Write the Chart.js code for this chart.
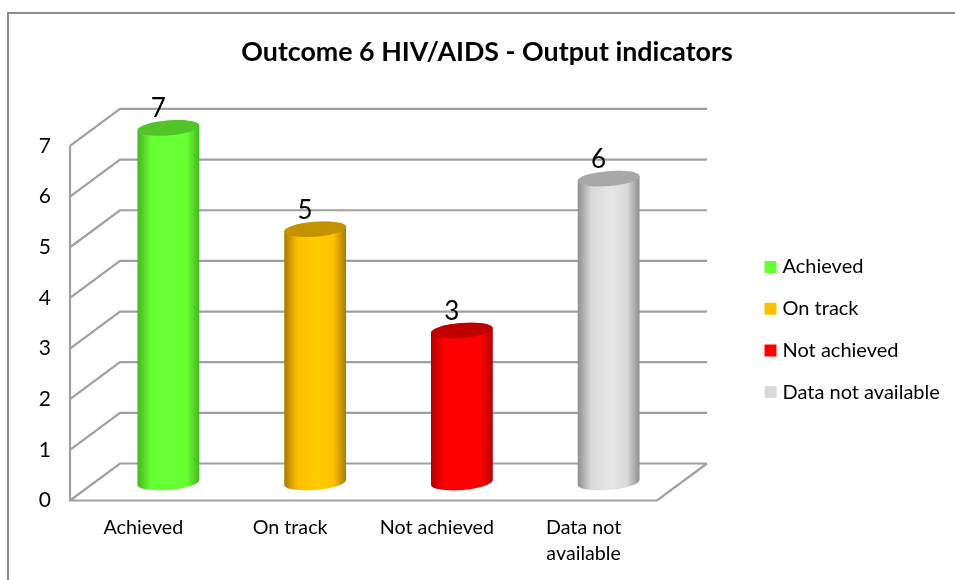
<!DOCTYPE html>
<html>
<head>
<meta charset="utf-8">
<style>
  html, body { margin: 0; background: #fff; }
  canvas { display: block; }
</style>
</head>
<body>
<canvas id="myChart" width="955" height="580"></canvas>
<script src="https://cdn.jsdelivr.net/npm/chart.js@4"></script>
<script>
const categories = [['Achieved'], ['On track'], ['Not achieved'], ['Data not', 'available']];
const legendNames = ['Achieved', 'On track', 'Not achieved', 'Data not available'];
const values = [7, 5, 3, 6];
const bodyColors = ['#66FF33', '#FFC000', '#FF0000', '#D9D9D9'];
const peakColors = ['#66FF33', '#FFCC00', '#FF0000', '#E6E6E6'];
const edgeColors = ['#47B324', '#A67C00', '#B30000', '#8F8F8F'];
const capColors = ['#52C42A', '#C29200', '#C00000', '#A8A8A8'];

const depthX = 50, depthY = 37;   // offset front -> back wall
const gridColor = '#A0A0A0';

const wallsAndCylinders = {
  id: 'wallsAndCylinders',
  beforeDraw(chart) {
    const c = chart.ctx;
    c.save();
    c.fillStyle = '#fff';
    c.fillRect(0, 0, chart.width, chart.height);
    c.strokeStyle = '#8C8C8C';
    c.lineWidth = 2;
    c.beginPath();
    c.moveTo(8, chart.height);
    c.lineTo(8, 13);
    c.lineTo(chart.width, 13);
    c.stroke();
    c.restore();
  },
  afterLayout(chart) {
    // title and legend are placed by hand, the chart area stays put
    chart.titleBlock.left = 0;
    chart.titleBlock.right = 974;
    chart.legend.left = 746.8;
    chart.legend.right = 955;
    chart.legend.top = 235.3;
    chart.legend.bottom = 580;
  },
  beforeDatasetsDraw(chart) {
    const c = chart.ctx, y = chart.scales.y, a = chart.chartArea;
    c.save();
    c.strokeStyle = gridColor;
    c.lineWidth = 2.2;
    c.beginPath();
    y.ticks.forEach(t => {
      const py = y.getPixelForValue(t.value);
      c.moveTo(a.left, py);
      c.lineTo(a.left + depthX, py - depthY);
      c.lineTo(a.right + depthX, py - depthY);
    });
    c.moveTo(a.left, a.top);
    c.lineTo(a.left, a.bottom);
    c.lineTo(a.right, a.bottom);
    c.lineTo(a.right + depthX, a.bottom - depthY);
    c.stroke();
    c.restore();
  },
  beforeDatasetDraw(chart, args) {
    const c = chart.ctx, ox = depthX / 2, oy = 18;
    args.meta.data.forEach((bar, i) => {
      const p = bar.getProps(['x', 'y', 'base', 'width'], true);
      const cx = p.x + ox, top = p.y - oy, base = p.base - oy;
      const rx = p.width / 2, ry = 7.5, tilt = -0.08;
      const g = c.createLinearGradient(cx - rx, 0, cx + rx, 0);
      g.addColorStop(0, edgeColors[i]);
      g.addColorStop(0.22, bodyColors[i]);
      g.addColorStop(0.55, peakColors[i]);
      g.addColorStop(0.8, bodyColors[i]);
      g.addColorStop(1, edgeColors[i]);
      c.save();
      c.fillStyle = g;
      c.beginPath();
      c.ellipse(cx, base, rx, ry, tilt, 0, Math.PI);
      c.ellipse(cx, top, rx, ry, tilt, Math.PI, Math.PI * 2);
      c.closePath();
      c.fill();
      c.fillStyle = capColors[i];
      c.beginPath();
      c.ellipse(cx, top, rx, ry, tilt, 0, Math.PI * 2);
      c.fill();
      c.restore();
    });
    return false;
  },
  afterDatasetsDraw(chart) {
    const c = chart.ctx, bars = chart.getDatasetMeta(0).data;
    c.save();
    c.fillStyle = '#000';
    c.font = '26px Lato';
    c.textAlign = 'center';
    c.textBaseline = 'middle';
    bars.forEach((bar, i) => {
      c.fillText(values[i], bar.x + 15, bar.y - 37);
    });
    c.restore();
  }
};

new Chart(document.getElementById('myChart').getContext('2d'), {
  type: 'bar',
  data: {
    labels: categories,
    datasets: [{
      data: values,
      backgroundColor: bodyColors,
      barPercentage: 0.4225,
      categoryPercentage: 1
    }]
  },
  plugins: [wallsAndCylinders],
  options: {
    responsive: false,
    animation: false,
    layout: { padding: { left: 0, right: 298, top: 0, bottom: 0 } },
    scales: {
      x: {
        grid: { display: false, drawTicks: false },
        border: { display: false },
        ticks: {
          padding: 14.5, color: '#000', autoSkip: false, maxRotation: 0,
          font: { family: 'Lato', size: 19.7, lineHeight: 1.3 }
        },
        afterFit(s) { s.height = 79.5; }
      },
      y: {
        min: 0,
        max: 7,
        grid: { display: false, drawTicks: false },
        border: { display: false },
        ticks: {
          stepSize: 1, padding: 19, color: '#000',
          font: { family: 'Lato', size: 21 }
        },
        afterFit(s) { s.width = 70; }
      }
    },
    plugins: {
      tooltip: { enabled: false },
      title: {
        display: true,
        text: 'Outcome 6 HIV/AIDS - Output indicators',
        color: '#000',
        font: { family: 'Lato', size: 26.8, weight: 'bold' },
        padding: { top: 36.4, bottom: 77.4 }
      },
      legend: {
        position: 'chartArea',
        align: 'start',
        labels: {
          color: '#000',
          font: { family: 'Lato', size: 20 },
          boxWidth: 4,
          boxHeight: 4,
          padding: 21.7,
          generateLabels: () => legendNames.map((name, i) => ({
            text: name,
            fillStyle: bodyColors[i],
            strokeStyle: bodyColors[i],
            lineWidth: 8,
            fontColor: '#000',
            index: i
          }))
        }
      }
    }
  }
});
</script>
</body>
</html>
